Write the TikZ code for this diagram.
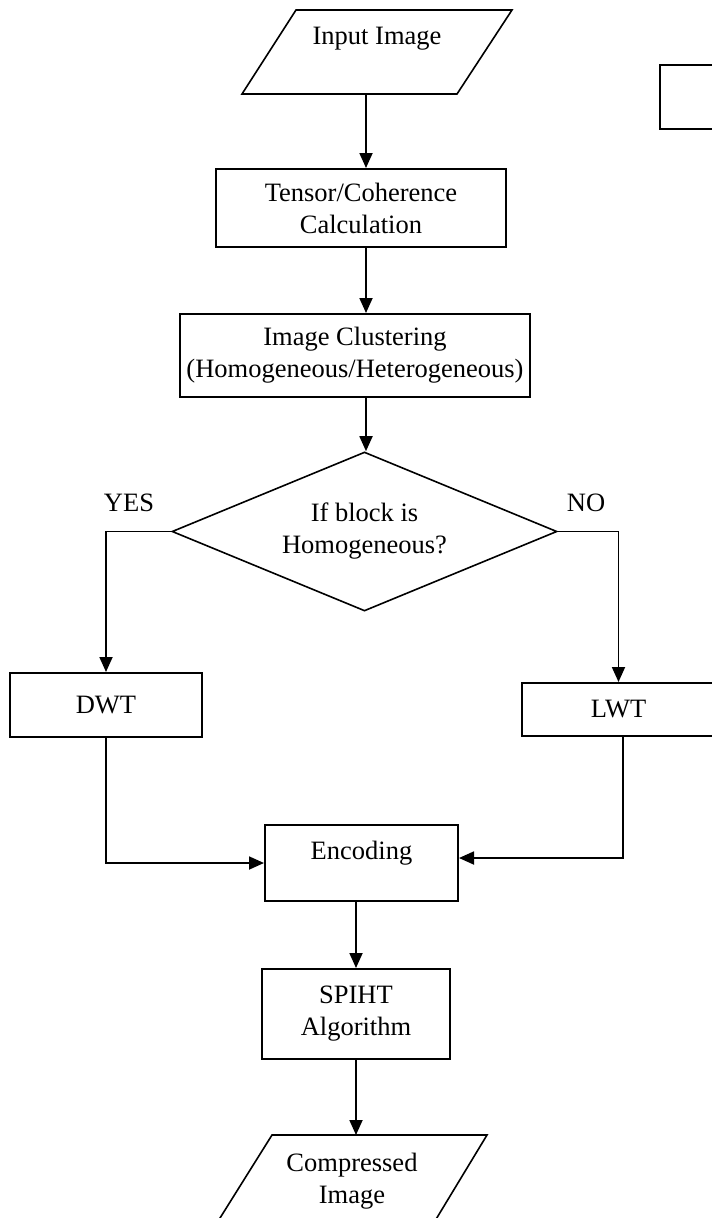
\documentclass[tikz,border=0pt]{standalone}
\usepackage{fontspec}
\setmainfont{Liberation Serif}
\usetikzlibrary{arrows.meta,shapes.geometric}
\begin{document}
\begin{tikzpicture}[x=1pt,y=-1pt,
  every node/.style={font=\fontsize{26.5}{32}\selectfont, align=center},
  box/.style={draw, line width=2pt, rectangle, inner sep=0pt},
  conn/.style={line width=1.8pt},
  arr/.style={line width=1.8pt, -{Triangle[length=15pt,width=13pt]}},
  outline/.style={line width=1.6pt, line join=miter}]
\useasboundingbox (0,0) rectangle (712,1218);
\clip (0,0) rectangle (712,1218);
\fill[white] (0,0) rectangle (712,1218);

% input parallelogram
\draw[outline] (296,10) -- (512,10) -- (457,94) -- (242,94) -- cycle;
\node (inp) at (377,39) {Input Image};
\coordinate (in1) at (366,94);

% small partial box top right
\draw[line width=2.4pt] (740,65) -- (660,65) -- (660,129) -- (740,129);

% process boxes
\node[box, minimum width=290pt, minimum height=78pt] (tensor) at (361,208) {Tensor/Coherence\\Calculation};
\node[box, minimum width=350pt, minimum height=83pt] (clust) at (355,355.5) {Image Clustering\\(Homogeneous/Heterogeneous)};
\node[draw, diamond, shape aspect=2.42, minimum width=385pt, minimum height=159pt, inner sep=0pt, line width=1.6pt] (dec) at (364.5,531.5) {If block is\\Homogeneous?};
\node (yes) at (129,503) {YES};
\node (no) at (586,503) {NO};
\node[box, minimum width=192pt, minimum height=64pt] (dwt) at (106,705) {DWT};
\node[box, minimum width=193pt, minimum height=53pt] (lwt) at (618.5,709.5) {LWT};
\node[box, minimum width=193pt, minimum height=76pt, text height=18pt, text depth=26pt] (enc) at (361.5,863) {Encoding};
\node[box, minimum width=188pt, minimum height=90pt] (spiht) at (356,1014) {SPIHT\\Algorithm};

% output parallelogram (cut at bottom)
\draw[outline] (212.5,1230) -- (272,1135) -- (487,1135) -- (429.5,1230);
\node (outp) at (352,1181) {Compressed\\Image};
\coordinate (out1) at (356,1135);

% connectors
\draw[arr] (in1) -- (in1 |- tensor.north);
\draw[arr] (in1 |- tensor.south) -- (in1 |- clust.north);
\draw[arr] (in1 |- clust.south) -- (in1 |- dec.north);
\draw[arr] (dec.west) -| (dwt.north);
\draw[arr] (dec.east) -| (lwt.north);
\draw[arr] (dwt.south) |- (enc.west);
\draw[arr] ([xshift=4.5pt]lwt.south) |- ([yshift=5pt]enc.east);
\draw[arr] (enc.south -| spiht.north) -- (spiht.north);
\draw[arr] (spiht.south) -- (out1);
\end{tikzpicture}
\end{document}
